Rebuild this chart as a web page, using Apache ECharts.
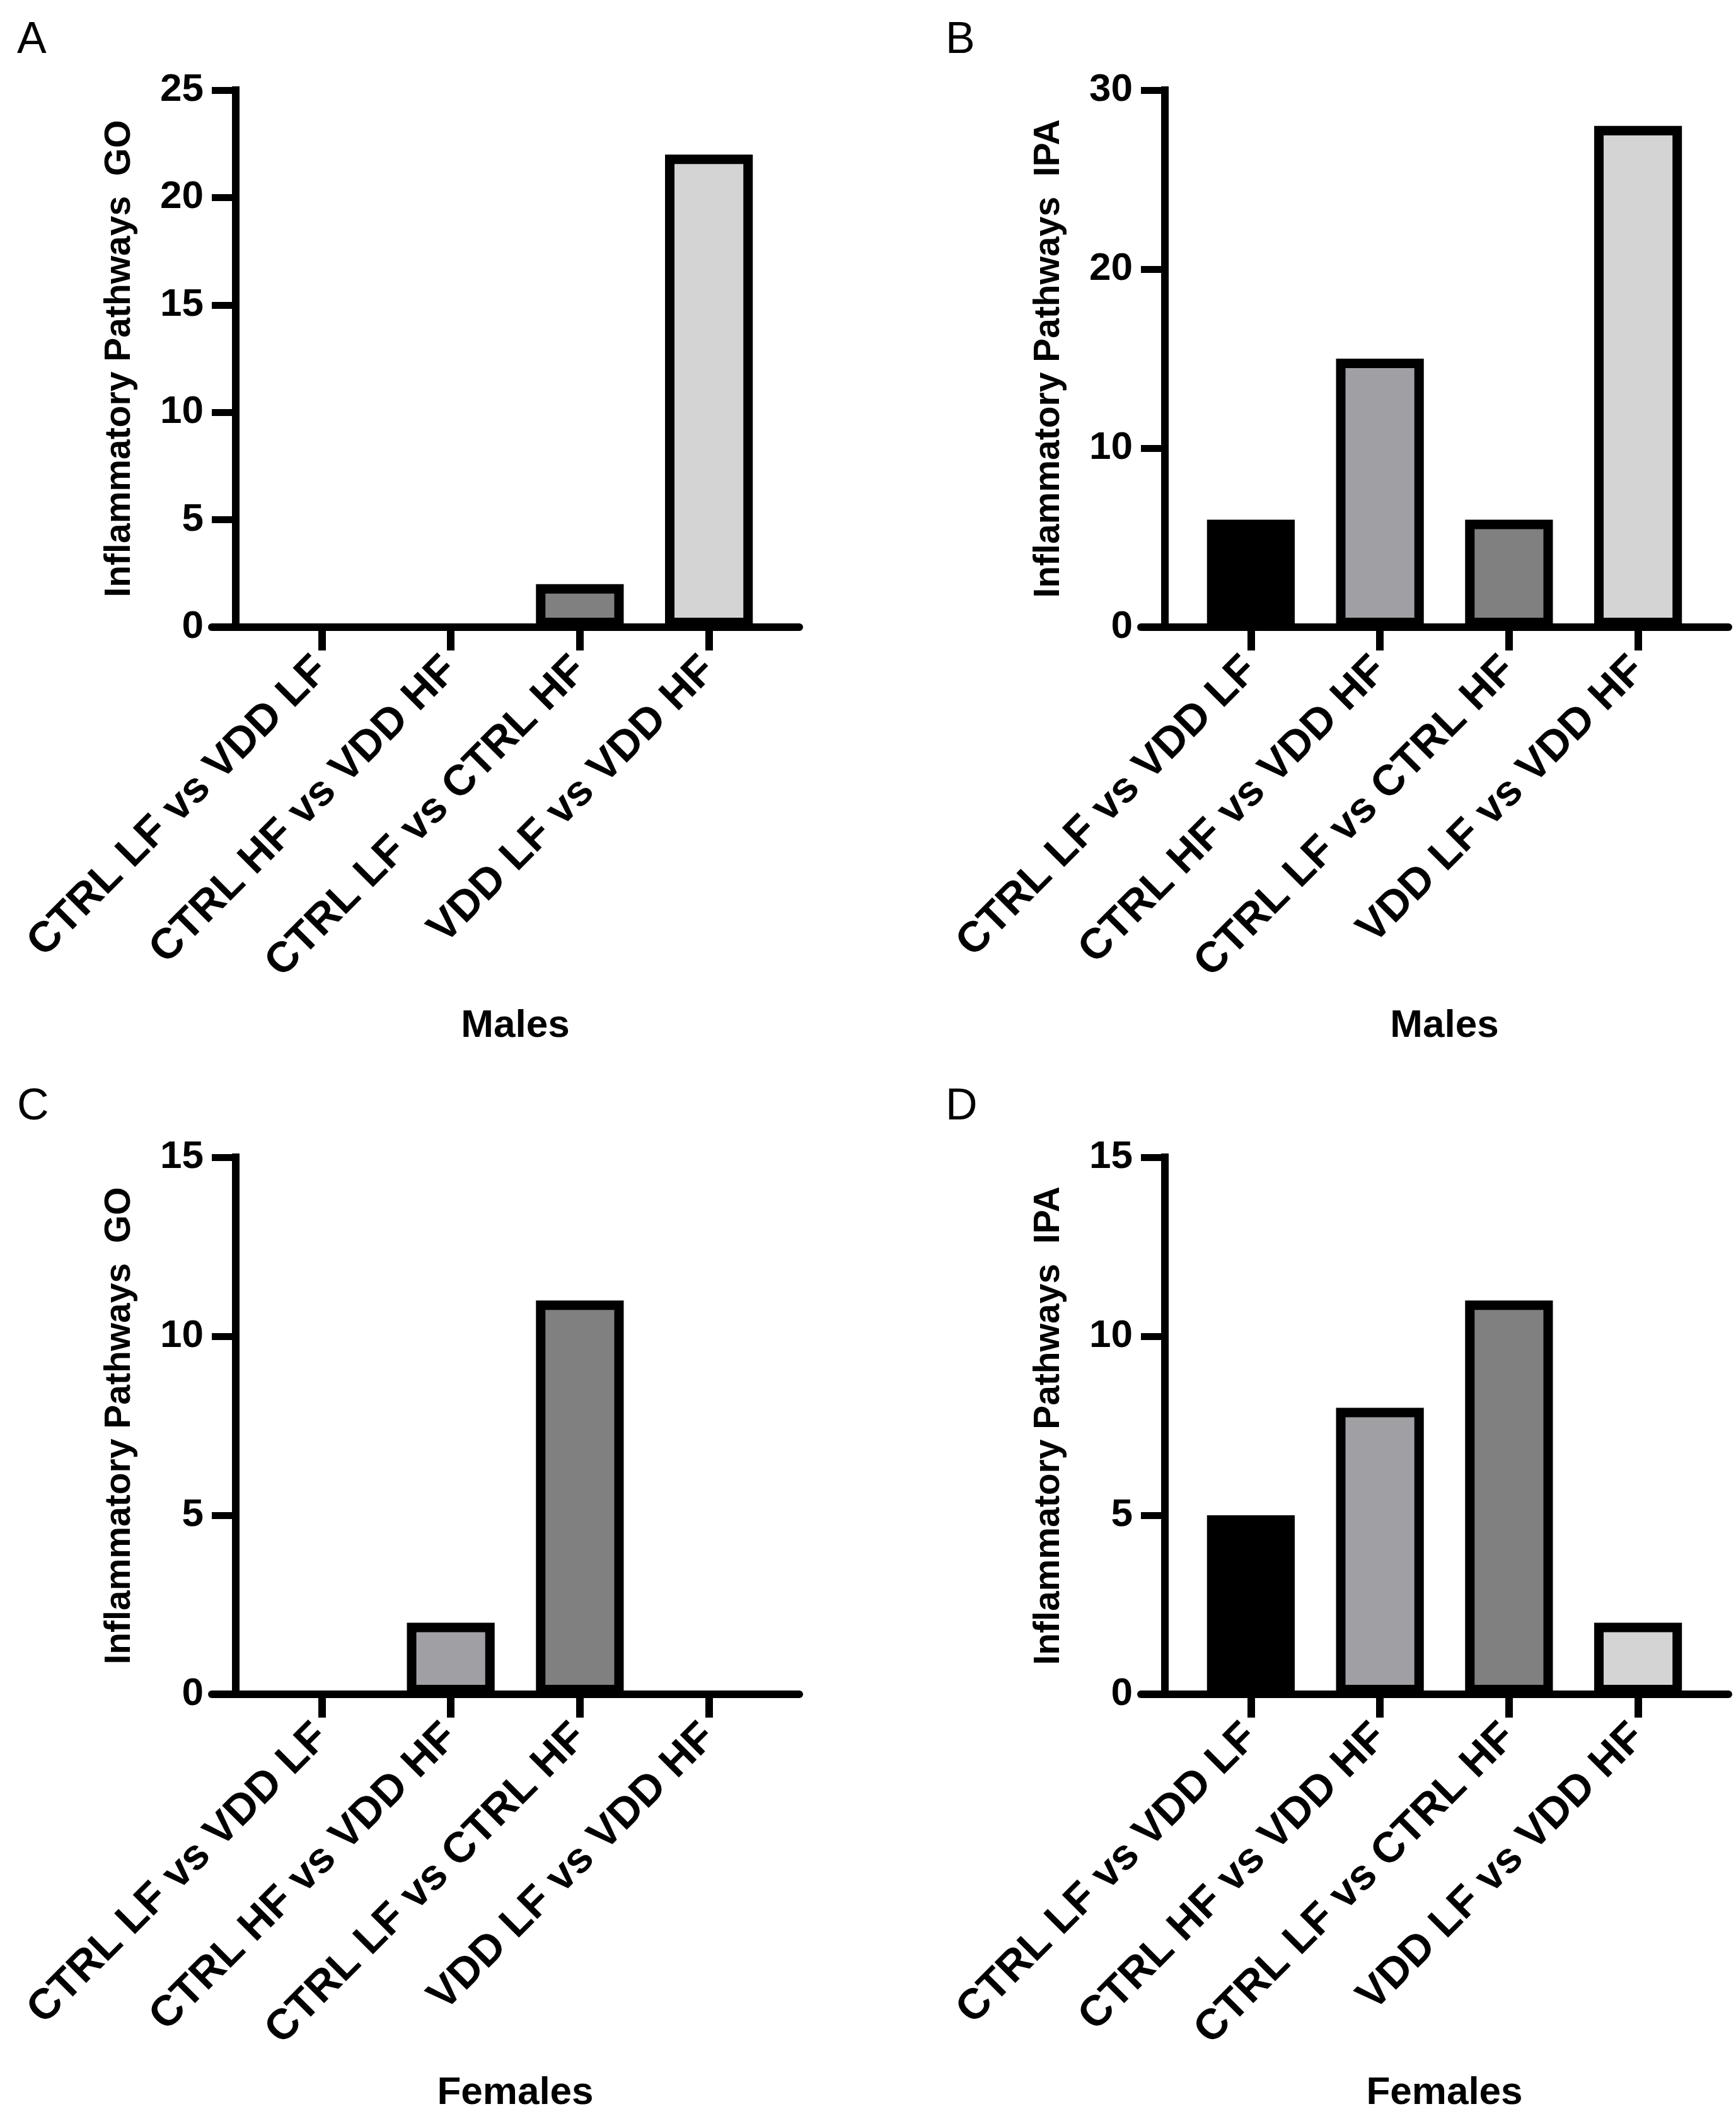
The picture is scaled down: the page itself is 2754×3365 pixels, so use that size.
<!DOCTYPE html>
<html>
<head>
<meta charset="utf-8">
<title>Inflammatory pathways</title>
<script src="https://cdn.jsdelivr.net/npm/echarts@6/dist/echarts.min.js"></script>
<style>
  html, body { margin: 0; padding: 0; background: #fff; }
  #main { width: 2754px; height: 3365px; }
</style>
</head>
<body>
<div id="main"></div>
<script>
// data
var categories = ['CTRL LF vs VDD LF', 'CTRL HF vs VDD HF', 'CTRL LF vs CTRL HF', 'VDD LF vs VDD HF'];
var goMales = [0, 0, 2, 22];
var ipaMales = [6, 15, 6, 28];
var goFemales = [0, 2, 11, 0];
var ipaFemales = [5, 8, 11, 2];
var yMax = [25, 30, 15, 15];
var yStep = [5, 10, 5, 5];
var yTitles = ['Inflammatory Pathways  GO', 'Inflammatory Pathways  IPA', 'Inflammatory Pathways  GO', 'Inflammatory Pathways  IPA'];
var xTitles = ['Males', 'Males', 'Females', 'Females'];
var letters = ['A', 'B', 'C', 'D'];

var barColors = ['#000000', '#a0a0a4', '#808080', '#d4d4d4'];
var FONT = '"Liberation Sans", Arial, sans-serif';

var seriesData = [goMales, ipaMales, goFemales, ipaFemales];

// layout (pixels)
var axisX = [374, 1848];     // y axis line, per column
var plotTop = [143, 1836];   // per row
var plotH = 852;

var grids = [], xAxes = [], yAxes = [], series = [], titles = [];

for (var i = 0; i < 4; i++) {
  var col = i % 2, row = Math.floor(i / 2);
  var x0 = axisX[col], gTop = plotTop[row];

  // frame grid: only carries the long baseline
  grids.push({ left: x0 - 38, top: gTop, width: 932, height: plotH });
  // bar grid
  grids.push({ left: x0 + 34, top: gTop, width: 819, height: plotH });

  xAxes.push({
    gridIndex: 2 * i, type: 'category', data: [''], position: 'bottom',
    axisLine: { show: true, onZero: false, lineStyle: { color: '#000', width: 12 } },
    axisTick: { show: false }, axisLabel: { show: false }, splitLine: { show: false }
  });
  yAxes.push({
    gridIndex: 2 * i, type: 'value', min: 0, max: 1, interval: 1,
    axisLine: { show: false }, axisTick: { show: false }, axisLabel: { show: false }, splitLine: { show: false }
  });

  xAxes.push({
    gridIndex: 2 * i + 1, type: 'category', data: categories,
    axisLine: { show: false, onZero: false },
    axisTick: { show: true, alignWithLabel: true, length: 37, lineStyle: { color: '#000', width: 12 } },
    axisLabel: {
      interval: 0, rotate: 45, margin: 58, color: '#000',
      fontFamily: FONT, fontWeight: 'bold', fontSize: 68
    },
    name: xTitles[i], nameLocation: 'middle', nameGap: 602, nameMoveOverlap: false,
    nameTextStyle: { fontFamily: FONT, fontWeight: 'bold', fontSize: 62, color: '#000' }
  });
  yAxes.push({
    gridIndex: 2 * i + 1, type: 'value', min: 0, max: yMax[i], interval: yStep[i],
    offset: 34,
    axisLine: { show: true, lineStyle: { color: '#000', width: 12, cap: 'square' } },
    axisTick: { show: true, length: 38, lineStyle: { color: '#000', width: 11 } },
    axisLabel: { margin: 51, color: '#000', fontFamily: FONT, fontWeight: 'bold', fontSize: 62 },
    splitLine: { show: false },
    name: yTitles[i], nameLocation: 'middle', nameGap: 155, nameMoveOverlap: false,
    nameTextStyle: { fontFamily: FONT, fontWeight: 'bold', fontSize: 57, color: '#000' }
  });

  series.push({
    type: 'bar', xAxisIndex: 2 * i + 1, yAxisIndex: 2 * i + 1,
    barWidth: '68%',
    data: seriesData[i].map(function (v, k) {
      // empty groups show no box in the original
      return { value: v, itemStyle: { color: barColors[k], borderWidth: v === 0 ? 0 : 15 } };
    }),
    itemStyle: { borderColor: '#000' }
  });

  titles.push({
    text: letters[i], left: col ? 1500 : 27, top: row ? 1722 : 30, padding: 0,
    textStyle: { fontFamily: FONT, fontWeight: 'normal', fontSize: 70, color: '#000' }
  });
}

var myChart = echarts.init(document.getElementById('main'), null, { renderer: 'canvas' });
myChart.setOption({
  backgroundColor: '#fff',
  animation: false,
  title: titles,
  grid: grids,
  xAxis: xAxes,
  yAxis: yAxes,
  series: series
});
</script>
</body>
</html>
